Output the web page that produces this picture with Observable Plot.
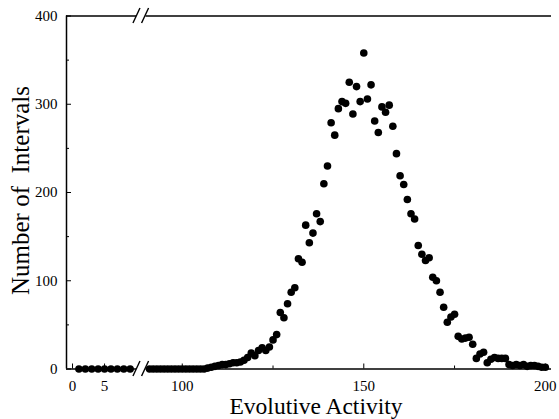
<!DOCTYPE html>
<html><head><meta charset="utf-8">
<script src="https://cdn.jsdelivr.net/npm/d3@7"></script>
<script src="https://cdn.jsdelivr.net/npm/@observablehq/plot@0.6"></script>
<style>
body{margin:0;background:#fff}
svg{display:block}
svg text{white-space:pre}
</style>
</head><body><div id="chart"></div>
<script>
// Left segment of the broken axis (activity 1..9)
const activityLow = [1,2,3,4,5,6,7,8,9];
const countsLow   = [0,0,0,0,0,0,0,0,0];
// Right segment (activity 91..200)
const activityHigh = [91,92,93,94,95,96,97,98,99,100,101,102,103,104,105,106,107,108,109,110,
  111,112,113,114,115,116,117,118,119,120,121,122,123,124,125,126,127,128,129,130,
  131,132,133,134,135,136,137,138,139,140,141,142,143,144,145,146,147,148,149,150,
  151,152,153,154,155,156,157,158,159,160,161,162,163,164,165,166,167,168,169,170,
  171,172,173,174,175,176,177,178,179,180,181,182,183,184,185,186,187,188,189,190,
  191,192,193,194,195,196,197,198,199,200];
const countsHigh = [0,0,0,0,0,0,0,0,0,0,0,0,0,0,0,0,1,2,3,4,
  5,5,6,7,7,8,10,13,18,15,21,24,21,25,33,39,64,58,74,87,
  92,125,121,163,143,154,176,167,210,230,279,265,295,303,301,325,289,320,303,358,
  306,322,281,268,297,291,299,275,244,219,209,192,176,170,140,130,123,126,104,100,
  87,70,53,59,62,37,34,35,36,28,12,17,19,7,11,13,12,12,12,5,
  4,5,4,5,3,4,4,3,2,2];

const xTicks = [0, 5, 100, 150, 200];
const xMinorTicks = [125, 175];
const yTicks = [0, 100, 200, 300, 400];
const yMinorTicks = [50, 150, 250, 350];
const breakAt = [10, 90];   // the axis is cut between these two activities

const points = [
  ...activityLow.map((a, i) => ({a, n: countsLow[i]})),
  ...activityHigh.map((a, i) => ({a, n: countsHigh[i]}))
];

const breakMarks = (index, {x, y}) => {
  const c = (x(breakAt[0]) + x(breakAt[1])) / 2;
  const g = d3.create("svg:g").attr("stroke", "black").attr("stroke-width", 1.4);
  for (const yv of [yTicks[0], yTicks[yTicks.length - 1]]) {
    const yy = y(yv);
    for (const off of [-4.3, 4.3]) {
      g.append("line")
        .attr("x1", c + off - 3.5).attr("y1", yy + 7.5)
        .attr("x2", c + off + 3.5).attr("y2", yy - 7.5);
    }
  }
  return g.node();
};

const chart = Plot.plot({
  width: 559,
  height: 419,
  marginLeft: 66,
  marginRight: 8,
  marginTop: 15.5,
  marginBottom: 50.5,
  style: {fontFamily: "'Liberation Serif', 'Times New Roman', serif", fontSize: "15px", color: "black", background: "white"},
  x: {type: "linear", domain: [-0.94, 10.3, 89.6, 201.7], range: [66, 138, 144, 551]},
  y: {domain: [0, 400]},
  marks: [
    Plot.ruleX([-0.94], {y1: 0, y2: 400, stroke: "black", strokeWidth: 1.5}),
    Plot.ruleY([0, 400], {x1: -0.94, x2: breakAt[0], stroke: "black", strokeWidth: 1.5}),
    Plot.ruleY([0, 400], {x1: breakAt[1], x2: 201.7, stroke: "black", strokeWidth: 1.5}),
    breakMarks,
    Plot.axisY({ticks: yTicks, tickSize: -5, tickPadding: 14, tickFormat: d3.format("d"), label: null, stroke: "black"}),
    Plot.axisY({ticks: yMinorTicks, tickSize: -3, tickFormat: () => "", label: null, stroke: "black"}),
    Plot.axisX({ticks: xTicks, tickSize: -5, tickPadding: 16, tickFormat: d3.format("d"), label: null, stroke: "black"}),
    Plot.axisX({ticks: xMinorTicks, tickSize: -3, tickFormat: () => "", label: null, stroke: "black"}),
    Plot.dot(points, {x: "a", y: "n", r: 3.8, fill: "black", stroke: "none"}),
    Plot.text(["Evolutive Activity"], {frameAnchor: "bottom", textAnchor: "middle", lineAnchor: "middle", dx: 7, dy: 37, fontSize: 23.5, fill: "black"}),
    Plot.text(["Number of  Intervals"], {frameAnchor: "left", textAnchor: "middle", lineAnchor: "middle", rotate: -90, dx: -46, dy: -2, fontSize: 25, fill: "black"})
  ]
});
document.getElementById("chart").append(chart);
</script>
</body></html>
